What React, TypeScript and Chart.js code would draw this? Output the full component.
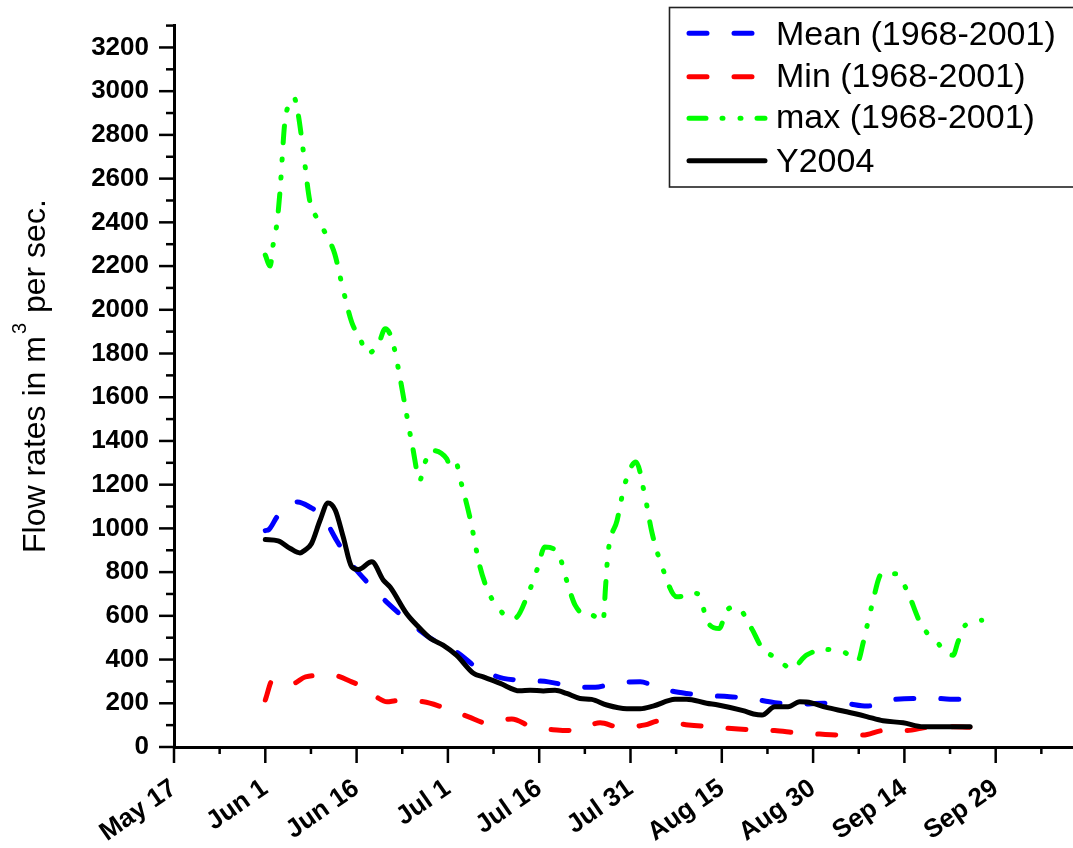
import React, { useEffect, useRef } from "react";
import { Chart, registerables } from "chart.js";

Chart.register(...registerables);

// X axis: days counted from May 17
const tickDays = [0, 15, 30, 45, 60, 75, 90, 105, 120, 135];
const tickLabels = ["May 17", "Jun 1", "Jun 16", "Jul 1", "Jul 16", "Jul 31", "Aug 15", "Aug 30", "Sep 14", "Sep 29"];
const minorTickDays = [7.5, 22.5, 37.5, 52.5, 67.5, 82.5, 97.5, 112.5, 127.5, 142.5];

const seriesNames = ["Mean (1968-2001)", "Min (1968-2001)", "max (1968-2001)", "Y2004"];

const meanDays = [15, 15.6, 16.9, 18.5, 20.3, 22.3, 24.5, 26.7, 28.9, 32.2, 34.9, 39.3, 42.1, 46.4, 49.9, 54.1, 57.4, 61.5, 65.1, 69.2, 72.2, 76.6, 79.8, 84.2, 86.4, 91.3, 94.6, 98.7, 102.8, 106.6, 109.9, 113.8, 117.1, 121.4, 125, 128.8, 132.5];
const meanValues = [990, 995, 1052, 1105, 1121, 1098, 1052, 946, 847, 740, 664, 557, 498, 435, 361, 314, 306, 298, 279, 273, 291, 298, 268, 245, 238, 230, 222, 203, 196, 200, 200, 187, 212, 222, 222, 218, 218];

const minDays = [15, 16.2, 18, 19.6, 21.6, 25.9, 29.2, 32, 33.6, 35, 36.6, 41, 44.2, 48.3, 51.6, 55.5, 58.7, 62.9, 65.8, 70, 73.3, 77.4, 79.6, 84.5, 87.8, 91.6, 94.9, 98.7, 102.3, 106.1, 109.4, 113.2, 116.5, 120.4, 123.7, 128, 131, 133.8];
const minValues = [215, 306, 298, 291, 321, 329, 298, 260, 223, 207, 212, 207, 181, 139, 108, 128, 93, 78, 75, 111, 90, 101, 119, 101, 93, 85, 78, 75, 65, 59, 55, 55, 75, 75, 90, 93, 90, 96];

const maxDays = [15, 15.8, 16.3, 16.9, 17.4, 18.2, 18.8, 19.7, 20.4, 21.2, 22.3, 23.4, 25.1, 26.4, 27.7, 29.2, 30.6, 31.7, 33.6, 34.7, 35.8, 36.6, 37.9, 39.2, 40.4, 41.0, 42.3, 44.8, 45.3, 46.3, 47.0, 48.6, 50.2, 51.1, 52.2, 54.4, 56, 58.2, 59.8, 60.9, 63.1, 64.9, 65.9, 67.8, 68.6, 70.5, 70.9, 71.3, 72.8, 74.1, 75.9, 77.4, 78.5, 80.1, 82.6, 85.9, 86.7, 87.5, 89.6, 90.8, 92.4, 94.9, 96.5, 99, 101.5, 103.9, 107.2, 110, 112.4, 113.2, 114.6, 116.3, 118.7, 120.4, 122.8, 125, 128, 128.8, 130, 132.7];
const maxValues = [2250, 2200, 2300, 2393, 2537, 2857, 2934, 2972, 2895, 2735, 2499, 2423, 2339, 2256, 2103, 1943, 1867, 1799, 1845, 1913, 1867, 1768, 1570, 1372, 1220, 1281, 1357, 1319, 1289, 1304, 1228, 1052, 832, 748, 679, 603, 590, 702, 824, 915, 885, 725, 649, 603, 603, 573, 732, 885, 1037, 1205, 1304, 1144, 984, 832, 687, 702, 664, 580, 542, 626, 641, 542, 458, 405, 360, 420, 446, 435, 397, 474, 641, 793, 793, 717, 557, 489, 420, 481, 557, 580];

const y2004Days = [15, 17.1, 19.1, 20.7, 21.5, 22.6, 24, 25.3, 26.5, 27.8, 29.2, 30.3, 32.5, 34.4, 35.5, 38.2, 39.9, 42.1, 44.2, 46.4, 49.2, 50.8, 53.6, 56.8, 58.5, 60.7, 62.6, 64.5, 66.7, 68.6, 71.1, 74.4, 76.6, 78.7, 82.3, 84.2, 87.5, 89.4, 93.5, 95.2, 96.6, 98.7, 100.9, 102.8, 103.9, 107.2, 110.5, 113.8, 116.5, 119.8, 123.1, 125.8, 130.8];
const y2004Values = [949, 943, 908, 888, 900, 931, 1037, 1116, 1083, 961, 824, 812, 847, 763, 732, 611, 557, 497, 466, 420, 337, 321, 291, 257, 260, 256, 260, 245, 222, 218, 192, 175, 175, 187, 218, 219, 200, 192, 166, 151, 146, 184, 184, 207, 206, 181, 161, 139, 120, 111, 93, 93, 93];

const colors = ["#0000ff", "#ff0000", "#00ff00", "#000000"];
const dashes: number[][] = [[18, 27], [18, 27], [17, 16, 1, 17, 1, 16], []];

const pts = (xs: number[], ys: number[]) => xs.map((x, i) => ({ x, y: ys[i] }));

const decorPlugin = {
  id: "decor",
  afterDraw(chart: any) {
    const ctx = chart.ctx;
    const xs = chart.scales.x;
    const ys = chart.scales.y;
    const { left, bottom } = chart.chartArea;
    ctx.save();
    // tick marks
    ctx.strokeStyle = "#000";
    ctx.lineWidth = 2.5;
    ctx.lineCap = "butt";
    ys.ticks.forEach((t: any) => {
      const y = ys.getPixelForValue(t.value);
      const major = t.value % 200 === 0;
      ctx.beginPath();
      ctx.moveTo(left - (major ? 15 : 8), y);
      ctx.lineTo(left, y);
      ctx.stroke();
    });
    xs.ticks.forEach((t: any) => {
      const x = xs.getPixelForValue(t.value);
      const major = t.value % 15 === 0;
      ctx.beginPath();
      ctx.moveTo(x, bottom);
      ctx.lineTo(x, bottom + (major ? 16 : 7));
      ctx.stroke();
    });

    // y axis title with superscript
    ctx.fillStyle = "#000";
    ctx.translate(45, 553);
    ctx.rotate(-Math.PI / 2);
    ctx.textAlign = "left";
    ctx.textBaseline = "alphabetic";
    ctx.font = "32px 'Liberation Sans', Arial, sans-serif";
    const p1 = "Flow rates in m";
    ctx.fillText(p1, 0, 0);
    let w = ctx.measureText(p1).width + 2;
    ctx.font = "20px 'Liberation Sans', Arial, sans-serif";
    ctx.fillText("3", w, -19);
    w += ctx.measureText("3").width + 1;
    ctx.font = "32px 'Liberation Sans', Arial, sans-serif";
    ctx.fillText(" per sec.", w, 0);
    ctx.restore();

    // legend
    ctx.save();
    ctx.fillStyle = "#fff";
    ctx.fillRect(669, 7, 420, 180);
    ctx.strokeStyle = "#222";
    ctx.lineWidth = 1.6;
    ctx.strokeRect(669.5, 7.5, 420, 179.5);
    const lineYs = [33.3, 76.7, 118.3, 160.7];
    const baseYs = [45, 87.3, 128.3, 171.7];
    seriesNames.forEach((name, i) => {
      ctx.beginPath();
      ctx.strokeStyle = colors[i];
      ctx.lineWidth = 5;
      ctx.lineCap = "round";
      ctx.setLineDash(dashes[i]);
      ctx.moveTo(689, lineYs[i]);
      ctx.lineTo(765, lineYs[i]);
      ctx.stroke();
      ctx.setLineDash([]);
      ctx.fillStyle = "#000";
      ctx.font = "34px 'Liberation Sans', Arial, sans-serif";
      ctx.textAlign = "left";
      ctx.textBaseline = "alphabetic";
      ctx.fillText(name, 776, baseYs[i]);
    });
    ctx.restore();
  },
};

export default function App() {
  const ref = useRef<HTMLCanvasElement>(null);
  useEffect(() => {
    if (!ref.current) return;
    const seriesDays = [meanDays, minDays, maxDays, y2004Days];
    const seriesVals = [meanValues, minValues, maxValues, y2004Values];
    const chart = new Chart(ref.current, {
      type: "line",
      data: {
        datasets: seriesNames.map((name, i) => ({
          label: name,
          data: pts(seriesDays[i], seriesVals[i]),
          borderColor: colors[i],
          backgroundColor: colors[i],
          borderWidth: 5,
          borderDash: dashes[i],
          borderCapStyle: "round",
          borderJoinStyle: "round",
          pointRadius: 0,
          fill: false,
          cubicInterpolationMode: "monotone",
          order: i === 3 ? 0 : 4 - i,
        })),
      },
      options: {
        animation: false,
        responsive: false,
        devicePixelRatio: 1,
        layout: { padding: { top: 25, left: 0, right: 0, bottom: 0 } },
        plugins: { legend: { display: false }, tooltip: { enabled: false }, title: { display: false } },
        scales: {
          x: {
            type: "linear",
            min: 0,
            max: 147.7,
            afterBuildTicks: (s: any) => {
              s.ticks = [...tickDays, ...minorTickDays].sort((a, b) => a - b).map((v) => ({ value: v }));
            },
            afterFit: (s: any) => {
              s.height = 101;
            },
            border: { display: true, color: "#000", width: 3 },
            grid: { display: true, drawOnChartArea: false, drawTicks: true, tickLength: 16, color: "rgba(0,0,0,0)" },
            ticks: {
              autoSkip: false,
              maxRotation: 35,
              minRotation: 35,
              padding: 10,
              color: "#000",
              font: { family: "'Liberation Sans', Arial, sans-serif", size: 26, weight: "bold" },
              callback: (v: any) => {
                const i = tickDays.indexOf(Number(v));
                return i >= 0 ? tickLabels[i] : "";
              },
            },
          },
          y: {
            type: "linear",
            min: 0,
            max: 3300,
            afterFit: (s: any) => {
              s.width = 174;
            },
            border: { display: true, color: "#000", width: 3 },
            grid: { display: true, drawOnChartArea: false, drawTicks: true, tickLength: 15, color: "rgba(0,0,0,0)" },
            ticks: {
              stepSize: 100,
              autoSkip: false,
              padding: 10,
              color: "#000",
              font: { family: "'Liberation Sans', Arial, sans-serif", size: 26, weight: "bold" },
              callback: (v: any) => (Number(v) % 200 === 0 ? String(v) : ""),
            },
          },
        },
      },
      plugins: [decorPlugin],
    } as any);
    return () => chart.destroy();
  }, []);
  return (
    <div style={{ position: "absolute", left: 0, top: 0, width: 1073, height: 848, background: "#fff" }}>
      <canvas ref={ref} width={1073} height={848} style={{ display: "block" }} />
    </div>
  );
}
